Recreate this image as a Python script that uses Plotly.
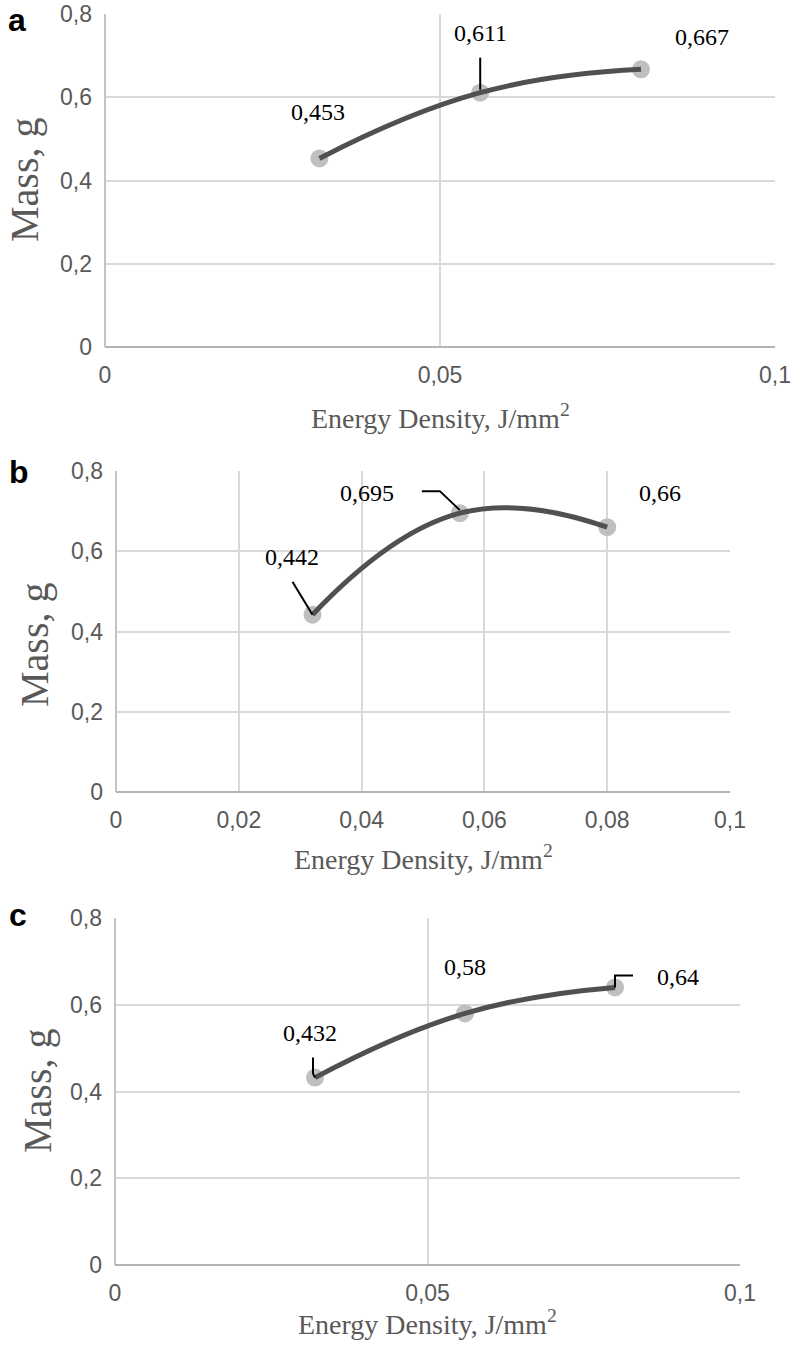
import plotly.graph_objects as go

W, H = 792, 1345

# ---- data ----
energy = [0.032, 0.056, 0.08]
mass_a = [0.453, 0.611, 0.667]
mass_b = [0.442, 0.695, 0.66]
mass_c = [0.432, 0.58, 0.64]
panel_letters = ["a", "b", "c"]
x_dticks = [0.05, 0.02, 0.05]
x_range = [0, 0.1]
y_range = [0, 0.8]
y_dtick = 0.2
x_title = "Energy Density, J/mm<sup>2</sup>"
y_title = "Mass, g"

series = [mass_a, mass_b, mass_c]

# ---- layout (pixel boxes: left, right, top, bottom) ----
boxes = [(105, 775, 14, 347), (116, 730, 471, 792), (115, 740, 918, 1265)]
xtitle_y = [416, 857, 1322]
ytitle_pos = [(25, 180), (34, 645), (37, 1091)]
letter_pos = [(17, 20), (19, 472), (18, 915)]

# label offsets (px, x right, y up) and leader paths
label_off = [
    [(-1, 46), (0, 60), (61, 32)],
    [(-20, 58), (-93, 20), (53, 34)],
    [(-5, 45), (0, 46), (63, 10)],
]
leaders = [
    [None, "M 0,3 L 0,35", None],
    ["M 0,0 L -20,33", "M 0,3 L -20,22 L -38,22", None],
    ["M 0,0 L -2,4 L -2,20", None, "M 0,0 L 0,12 L 18,12"],
]

LINE_COLOR = "#505050"
MARKER_COLOR = "#bfbfbf"
GRID = "#d9d9d9"
TEXT_GRAY = "#595959"

fig = go.Figure()
annotations = []
shapes = []

def px_to_paper_x(px):
    return px / W

def px_to_paper_y(py):
    return 1 - py / H

for i, ys in enumerate(series):
    n = "" if i == 0 else str(i + 1)
    xa, ya = "x" + n, "y" + n
    # markers first, line drawn over them
    fig.add_trace(go.Scatter(x=energy, y=ys, mode="markers", xaxis=xa, yaxis=ya,
                             marker=dict(size=18, color=MARKER_COLOR), hoverinfo="skip"))
    fig.add_trace(go.Scatter(x=energy, y=ys, mode="lines", xaxis=xa, yaxis=ya,
                             line=dict(color=LINE_COLOR, width=5, shape="spline", smoothing=1.3)))
    l, r, t, b = boxes[i]
    axis_common = dict(showgrid=True, gridcolor=GRID, gridwidth=2, automargin=False,
                       tickfont=dict(family="Liberation Sans", size=23, color=TEXT_GRAY),
                       ticks="", fixedrange=True)
    fig.layout["xaxis" + n] = dict(axis_common, domain=[px_to_paper_x(l), px_to_paper_x(r)],
                                   anchor=ya, range=x_range, dtick=x_dticks[i], tick0=0,
                                   zeroline=True, zerolinecolor="#c4c4c4", zerolinewidth=2,
                                   ticklabelstandoff=12)
    fig.layout["yaxis" + n] = dict(axis_common, domain=[px_to_paper_y(b), px_to_paper_y(t)],
                                   anchor=xa, range=y_range, dtick=y_dtick, tick0=0,
                                   zeroline=True, zerolinecolor="#b4b4b4", zerolinewidth=2,
                                   ticklabelstandoff=12)
    # data labels
    for j, (xv, yv) in enumerate(zip(energy, ys)):
        dx, dy = label_off[i][j]
        annotations.append(dict(x=xv, y=yv, xref=xa, yref=ya, text=str(yv).replace(".", ","),
                                showarrow=False, xanchor="center", yanchor="middle",
                                xshift=dx, yshift=dy,
                                font=dict(family="Liberation Serif", size=24, color="black")))
        if leaders[i][j]:
            shapes.append(dict(type="path", xref=xa, yref=ya, xsizemode="pixel", ysizemode="pixel",
                               xanchor=xv, yanchor=yv, path=leaders[i][j],
                               line=dict(color="black", width=2), layer="above"))
    # axis titles
    annotations.append(dict(x=px_to_paper_x((l + r) / 2), y=px_to_paper_y(xtitle_y[i]),
                            xref="paper", yref="paper", text=x_title, showarrow=False,
                            xanchor="center", yanchor="middle",
                            font=dict(family="Liberation Serif", size=28, color=TEXT_GRAY)))
    tx, ty = ytitle_pos[i]
    annotations.append(dict(x=px_to_paper_x(tx), y=px_to_paper_y(ty), xref="paper", yref="paper",
                            text=y_title, showarrow=False, textangle=-90,
                            xanchor="center", yanchor="middle",
                            font=dict(family="Liberation Serif", size=40, color=TEXT_GRAY)))
    lx, ly = letter_pos[i]
    annotations.append(dict(x=px_to_paper_x(lx), y=px_to_paper_y(ly), xref="paper", yref="paper",
                            text="<b>" + panel_letters[i] + "</b>", showarrow=False,
                            xanchor="center", yanchor="middle",
                            font=dict(family="Liberation Sans", size=32, color="black")))

fig.update_layout(width=W, height=H, margin=dict(l=0, r=0, t=0, b=0),
                  paper_bgcolor="white", plot_bgcolor="white", showlegend=False,
                  separators=", ", annotations=annotations, shapes=shapes)

fig.write_html("out.html", config={"displayModeBar": False},
               post_script="document.body.style.margin='0';")
